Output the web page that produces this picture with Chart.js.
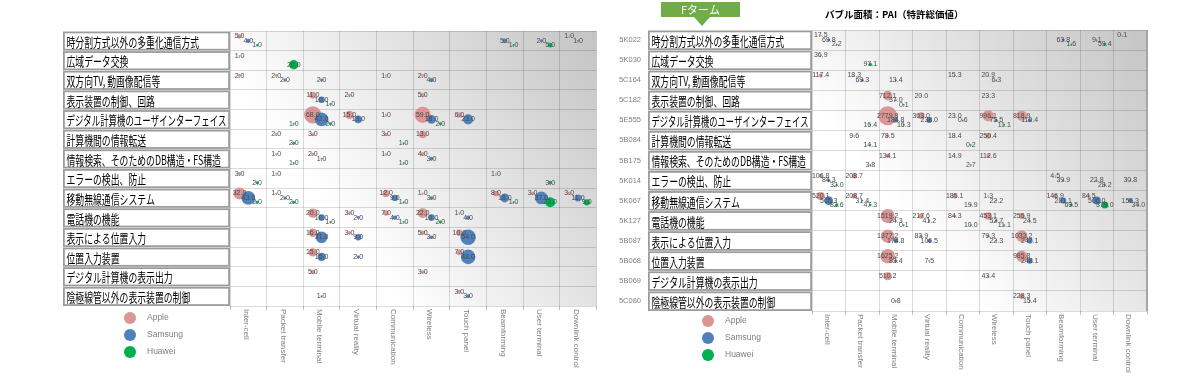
<!DOCTYPE html>
<html><head><meta charset="utf-8">
<script src="https://cdn.jsdelivr.net/npm/chart.js@4.4.1/dist/chart.umd.min.js"></script>
<style>
html,body{margin:0;padding:0;background:#fff;width:1191px;height:383px;overflow:hidden}
#c1{position:absolute;left:0;top:0}
#c2{position:absolute;left:605px;top:0}
</style></head><body>
<canvas id="c1" width="605" height="383"></canvas>
<canvas id="c2" width="586" height="383"></canvas>
<script>
const _ = null;
const categories = ['時分割方式以外の多重化通信方式','広域データ交換','双方向TV, 動画像配信等','表示装置の制御、回路','デジタル計算機のユーザインターフェイス','計算機間の情報転送','情報検索、そのためのDB構造・FS構造','エラーの検出、防止','移動無線通信システム','電話機の機能','表示による位置入力','位置入力装置','デジタル計算機の表示出力','陰極線管以外の表示装置の制御'];
const fTermCodes = ['5K022','5K030','5C164','5C182','5E555','5B084','5B175','5K014','5K067','5K127','5B087','5B068','5B069','5C080'];
const techTerms = ['Inter-cell','Packet transfer','Mobile terminal','Virtual reality','Communication','Wireless','Touch panel','Beamforming','User terminal','Downlink control'];
const companies = ['Apple','Samsung','Huawei'];
const calloutText = 'Fターム';
const sizeNote = 'バブル面積：PAI（特許総価値）';

// Left chart: patent counts (rows = categories, cols = techTerms)
const appleCount = [
 [5,_,_,_,_,_,_,_,_,1],
 [1,_,_,_,_,_,_,_,_,_],
 [2,2,_,_,1,2,_,_,_,_],
 [_,_,11,2,_,5,_,_,_,_],
 [_,_,68,15,1,59,6,_,_,_],
 [_,2,3,_,3,13,_,_,_,_],
 [_,1,2,_,1,4,_,_,_,_],
 [3,1,_,_,_,_,_,1,_,_],
 [32,1,_,_,12,1,_,8,3,3],
 [_,_,20,3,7,22,1,_,_,_],
 [_,_,16,3,_,5,10,_,_,_],
 [_,_,15,_,_,_,7,_,_,_],
 [_,_,5,_,_,3,_,_,_,_],
 [_,_,_,_,_,_,3,_,_,_]
];
const samsungCount = [
 [4,_,_,_,_,_,_,5,2,1],
 [],
 [_,2,2,_,_,4,_,_,_,_],
 [_,_,10,_,_,_,_,_,_,_],
 [_,_,42,13,_,18,23,_,_,_],
 [],
 [_,_,1,_,_,3,_,_,_,_],
 [],
 [43,2,_,_,9,3,_,18,37,11],
 [_,_,10,2,4,10,4,_,_,_],
 [_,_,31,9,_,3,54,_,_,_],
 [_,_,15,2,_,_,48,_,_,_],
 [],
 [_,_,1,_,_,_,3,_,_,_]
];
const huaweiCount = [
 [1,_,_,_,_,_,_,1,5,_],
 [_,20,_,_,_,_,_,_,_,_],
 [],
 [_,_,1,_,_,_,_,_,_,_],
 [_,1,2,_,_,2,_,_,_,_],
 [_,2,_,_,1,_,_,_,_,_],
 [_,1,_,_,1,_,_,_,_,_],
 [2,_,_,_,_,_,_,_,3,_],
 [2,2,_,_,1,_,_,1,23,9],
 [_,_,1,_,1,2,_,_,_,_],
 [],[],[],[]
];
// Right chart: PAI
const applePAI = [
 [17.5,_,_,_,_,_,_,_,_,0.1],
 [36.9,_,_,_,_,_,_,_,_,_],
 [117.4,18.3,_,_,15.3,20.9,_,_,_,_],
 [_,_,712.1,20.0,_,23.3,_,_,_,_],
 [_,_,2779.9,363.0,23.0,996.1,818.9,_,_,_],
 [_,9.6,78.5,_,18.4,250.4,_,_,_,_],
 [_,_,134.1,_,14.9,112.6,_,_,_,_],
 [106.8,208.7,_,_,_,_,_,4.5,_,_],
 [520.1,208.7,_,_,185.1,1.3,_,146.9,84.5,_],
 [_,_,1519.2,217.6,84.3,453.1,255.9,_,_,_],
 [_,_,1377.2,83.9,_,79.3,1033.2,_,_,_],
 [_,_,1625.2,_,_,_,985.8,_,_,_],
 [_,_,510.2,_,_,43.4,_,_,_,_],
 [_,_,_,_,_,_,228.3,_,_,_]
];
const samsungPAI = [
 [69.8,_,_,_,_,_,_,63.8,9.1,_],
 [],
 [_,69.3,13.4,_,_,6.3,_,_,_,_],
 [_,_,37.0,_,_,_,_,_,_,_],
 [_,_,184.8,238.0,0.6,75.5,110.4,_,_,_],
 [],
 [],
 [84.3,_,_,_,_,_,_,39.9,22.8,30.8],
 [565.3,31.4,_,_,_,22.2,_,281.1,506.0,156.3],
 [_,_,24.3,41.2,_,52.7,24.5,_,_,_],
 [_,_,174.8,106.5,_,22.3,247.1,_,_,_],
 [_,_,83.4,7.5,_,_,248.1,_,_,_],
 [],
 [_,_,0.8,_,_,_,15.4,_,_,_]
];
const huaweiPAI = [
 [2.2,_,_,_,_,_,_,1.6,59.4,_],
 [_,97.1,_,_,_,_,_,_,_,_],
 [],
 [_,_,0.1,_,_,_,_,_,_,_],
 [_,16.4,16.3,_,_,11.1,_,_,_,_],
 [_,14.1,_,_,0.2,_,_,_,_,_],
 [_,3.8,_,_,2.7,_,_,_,_,_],
 [32.0,_,_,_,_,_,_,_,28.2,_],
 [82.6,47.3,_,_,19.9,_,_,69.5,379.0,34.0],
 [_,_,0.1,_,10.0,11.1,_,_,_,_],
 [],[],[],[]
];

// ---- styles ----
const COLORS = ['#da9694','#4f81bd','#00b050'];
const XOFF = [0.26, 0.5, 0.74];
const YOFF = [0.27, 0.5, 0.72];
const JP = '"Noto Sans CJK JP", sans-serif';
const LAT = '"Liberation Sans", Arial, sans-serif';

function points(matrix, k, rScale){
  const pts = [];
  matrix.forEach((row, ri) => row.forEach((v, ci) => {
    if (v != null) pts.push({x: ci + XOFF[k], y: ri + YOFF[k], r: Math.max(0.9, rScale * Math.sqrt(v)), v: v});
  }));
  return pts;
}

function panelPlugin(p){
  return {
    id: 'panel',
    beforeDraw(chart){
      const a = chart.chartArea, ctx = chart.ctx;
      const g = ctx.createLinearGradient(a.left, a.bottom, a.right, a.top);
      g.addColorStop(0, '#ffffff');
      g.addColorStop(0.3, '#ffffff');
      g.addColorStop(1, '#c4c4c4');
      ctx.save(); ctx.fillStyle = g; ctx.fillRect(a.left, a.top, a.right - a.left, a.bottom - a.top); ctx.restore();
    },
    afterDraw(chart){
      const a = chart.chartArea, ctx = chart.ctx;
      const xs = chart.scales.x, ys = chart.scales.y;
      ctx.save();
      // data labels
      ctx.font = '7px ' + LAT; ctx.fillStyle = '#4a4a4a'; ctx.textAlign = 'center'; ctx.textBaseline = 'middle';
      chart.data.datasets.forEach((ds, di) => {
        const meta = chart.getDatasetMeta(di);
        meta.data.forEach((el, j) => { ctx.fillText(ds.data[j].v.toFixed(1), el.x, el.y); });
      });
      if (p.rightBorder){
        ctx.strokeStyle = '#a6a6a6'; ctx.lineWidth = 2;
        ctx.beginPath(); ctx.moveTo(a.right, a.top); ctx.lineTo(a.right, a.bottom); ctx.stroke();
      }
      // category boxes
      categories.forEach((cat, i) => {
        const t = ys.getPixelForValue(i), b = ys.getPixelForValue(i + 1);
        const x0 = p.boxLeft, x1 = a.left;
        ctx.fillStyle = '#ffffff'; ctx.fillRect(x0, t + 1, x1 - x0, b - t - 1.5);
        ctx.strokeStyle = '#9c9c9c'; ctx.lineWidth = 1.8;
        ctx.strokeRect(x0 + 0.9, t + 1.4, x1 - x0 - 1.8, b - t - 2.3);
        ctx.save();
        ctx.font = '13px ' + JP; ctx.fillStyle = '#000'; ctx.textAlign = 'left'; ctx.textBaseline = 'middle';
        const w = ctx.measureText(cat).width;
        const sx = Math.min(0.68, (x1 - x0 - 7) / w);
        ctx.translate(x0 + 3.5, (t + b) / 2 + 1); ctx.scale(sx, 1);
        ctx.fillText(cat, 0, 0);
        ctx.restore();
        if (p.codes){
          ctx.font = '7.5px ' + LAT; ctx.fillStyle = '#7f7f7f'; ctx.textAlign = 'right'; ctx.textBaseline = 'middle';
          ctx.fillText(fTermCodes[i], p.codeRight, (t + b) / 2);
        }
      });
      // x labels (rotated)
      ctx.font = '8px ' + LAT; ctx.fillStyle = '#7f7f7f'; ctx.textAlign = 'left'; ctx.textBaseline = 'middle';
      techTerms.forEach((term, c) => {
        ctx.save();
        ctx.translate(xs.getPixelForValue(c + 0.5) - 2, a.bottom + 3);
        ctx.rotate(Math.PI / 2);
        ctx.fillText(term, 0, 0);
        ctx.restore();
      });
      // legend
      companies.forEach((name, k) => {
        const cy = p.legY + k * p.legGap;
        ctx.fillStyle = COLORS[k]; ctx.beginPath(); ctx.arc(p.legX, cy, 6, 0, Math.PI * 2); ctx.fill();
        ctx.fillStyle = '#7f7f7f'; ctx.font = '8.5px ' + LAT; ctx.textAlign = 'left'; ctx.textBaseline = 'middle';
        ctx.fillText(name, p.legX + 17, cy);
      });
      if (p.titles){
        ctx.fillStyle = '#70ad47';
        ctx.fillRect(56, 2, 79, 15);
        ctx.beginPath(); ctx.moveTo(89, 17); ctx.lineTo(105, 17); ctx.lineTo(97, 26); ctx.closePath(); ctx.fill();
        ctx.fillStyle = '#ffffff'; ctx.font = '11px ' + JP; ctx.textAlign = 'center'; ctx.textBaseline = 'middle';
        ctx.fillText(calloutText, 95.5, 10);
        ctx.fillStyle = '#000'; ctx.font = 'bold 9.5px ' + JP; ctx.textAlign = 'left';
        ctx.fillText(sizeNote, 220, 14);
      }
      ctx.restore();
    }
  };
}

function makeChart(id, mats, rScale, padding, p){
  const datasets = mats.map((m, k) => ({
    label: companies[k], data: points(m, k, rScale),
    backgroundColor: COLORS[k], borderWidth: 0, order: 3 - k
  }));
  return new Chart(document.getElementById(id), {
    type: 'bubble',
    data: {datasets},
    options: {
      responsive: false, animation: false, events: [],
      layout: {padding},
      plugins: {legend: {display: false}, tooltip: {enabled: false}},
      scales: {
        x: {type: 'linear', min: 0, max: 10,
            afterBuildTicks: s => { s.ticks = techTerms.map((t, i) => ({value: i})).concat([{value: techTerms.length}]); },
            ticks: {display: false},
            grid: {color: 'rgba(0,0,0,0.14)', drawTicks: true, tickLength: 4, tickColor: '#bfbfbf'},
            border: {display: false},
            afterFit: s => { s.height = 0; }},
        y: {type: 'linear', min: 0, max: 14, reverse: true,
            afterBuildTicks: s => { s.ticks = categories.map((t, i) => ({value: i})).concat([{value: categories.length}]); },
            ticks: {display: false},
            grid: {color: 'rgba(0,0,0,0.14)', drawTicks: false},
            border: {display: false},
            afterFit: s => { s.width = 0; }}
      }
    },
    plugins: [panelPlugin(p)]
  });
}

makeChart('c1', [appleCount, samsungCount, huaweiCount], 1.05,
  {left: 230, right: 5, top: 31, bottom: 77},
  {boxLeft: 63, codes: false, legX: 130, legY: 318, legGap: 17, rightBorder: false, titles: false});
makeChart('c2', [applePAI, samsungPAI, huaweiPAI], 9.5 / Math.sqrt(2779.9),
  {left: 207, right: 44, top: 30, bottom: 72},
  {boxLeft: 43, codes: true, codeRight: 36, legX: 103, legY: 321, legGap: 17, rightBorder: true, titles: true});
</script>
</body></html>
